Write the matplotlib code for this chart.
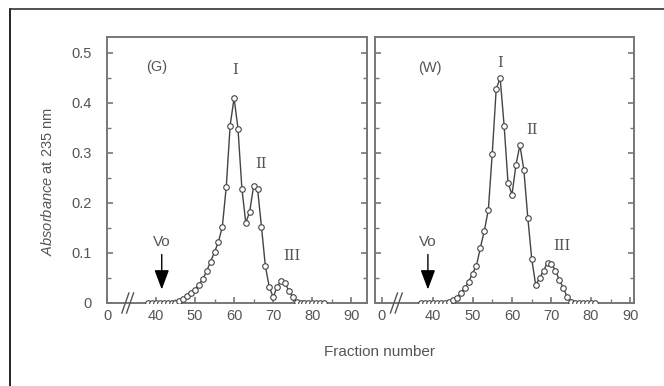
import numpy as np
import matplotlib
matplotlib.use("Agg")
import matplotlib.pyplot as plt
from matplotlib.lines import Line2D
from matplotlib.ticker import MultipleLocator, FixedLocator

# --- data (fraction number, absorbance at 235 nm) ---
g_frac = [38, 39, 40, 41, 42, 43, 44, 45, 46, 47, 48, 49, 50, 51, 52, 53, 54, 55,
          56, 57, 58, 59, 60, 61, 62, 63, 64, 65, 66, 67, 68, 69, 70, 71, 72, 73,
          74, 75, 76, 77, 78, 79, 80, 81, 82, 83]
g_abs = [0, 0, 0, 0, 0, 0, 0, 0, 0.004, 0.009, 0.015, 0.021, 0.027, 0.037, 0.048,
         0.064, 0.083, 0.102, 0.122, 0.153, 0.232, 0.355, 0.41, 0.349, 0.229,
         0.16, 0.183, 0.234, 0.229, 0.153, 0.074, 0.032, 0.012, 0.032, 0.045,
         0.04, 0.025, 0.012, 0.002, 0, 0, 0, 0, 0, 0, 0]

w_frac = [37, 38, 39, 40, 41, 42, 43, 44, 45, 46, 47, 48, 49, 50, 51, 52, 53, 54,
          55, 56, 57, 58, 59, 60, 61, 62, 63, 64, 65, 66, 67, 68, 69, 70, 71, 72,
          73, 74, 75, 76, 77, 78, 79, 80, 81]
w_abs = [0, 0, 0, 0, 0, 0, 0, 0.003, 0.006, 0.01, 0.02, 0.03, 0.042, 0.059, 0.075,
         0.111, 0.145, 0.186, 0.299, 0.428, 0.45, 0.355, 0.24, 0.217, 0.276, 0.316,
         0.266, 0.171, 0.088, 0.036, 0.05, 0.065, 0.081, 0.078, 0.065, 0.046, 0.03,
         0.012, 0.003, 0, 0, 0, 0, 0, 0]

x_ticks = [40, 50, 60, 70, 80, 90]
y_ticks = [0, 0.1, 0.2, 0.3, 0.4, 0.5]
y_ticklabels = ["0", "0.1", "0.2", "0.3", "0.4", "0.5"]

panels = [
    # name, x, y, xlim, zero-tick pos, Vo pos, break pos, peak labels, name pos
    ("(G)", g_frac, g_abs, (27.5, 94.0), 27.5, 41.5, 32.8,
     [("I", 60.2, 0.466), ("II", 67.0, 0.278), ("III", 74.7, 0.094)], (40.2, 0.472)),
    ("(W)", w_frac, w_abs, (25.3, 90.9), 27.0, 38.7, 30.7,
     [("I", 56.9, 0.48), ("II", 65.0, 0.345), ("III", 72.6, 0.115)], (39.2, 0.47)),
]

TXT = "#555555"
SPINE = "#777777"

plt.rcParams["font.family"] = ["Liberation Sans", "DejaVu Sans"]
plt.rcParams["mathtext.fontset"] = "custom"
plt.rcParams["mathtext.rm"] = "Liberation Sans"
plt.rcParams["mathtext.it"] = "Liberation Sans:italic"
fig = plt.figure(figsize=(6.64, 3.86), dpi=100)
rects = [[107 / 664, 1 - 303 / 386, 260 / 664, 266 / 386],
         [375 / 664, 1 - 303 / 386, 259 / 664, 266 / 386]]

for i, (rect, (name, xs, ys, xlim, zpos, vo_x, brk_x, peaks, name_xy)) in \
        enumerate(zip(rects, panels)):
    ax = fig.add_axes(rect)
    ax.plot(xs, ys, "-o", color="#444444", lw=1.0, ms=4, mfc="white",
            mec="#444444", mew=0.8, zorder=3)
    ax.set_xlim(*xlim)
    ax.set_ylim(0, 0.532)
    ax.xaxis.set_major_locator(FixedLocator([zpos] + x_ticks))
    ax.set_xticklabels(["0"] + [str(t) for t in x_ticks])
    ax.xaxis.set_minor_locator(FixedLocator([45, 55, 65, 75, 85]))
    ax.yaxis.set_major_locator(FixedLocator(y_ticks))
    ax.yaxis.set_minor_locator(MultipleLocator(0.05))
    if i == 0:
        ax.set_yticklabels(y_ticklabels)
    else:
        ax.set_yticklabels([])
    ax.tick_params(which="both", direction="in", right=True, top=False,
                   colors=SPINE, labelcolor=TXT, labelsize=10.5)
    ax.tick_params(axis="y", pad=11)
    ax.tick_params(axis="x", pad=4)
    ax.tick_params(which="major", length=4, width=1.2)
    ax.tick_params(which="minor", length=3, width=1.0)
    for s in ax.spines.values():
        s.set_color(SPINE)
        s.set_linewidth(1.4)

    # axis break mark
    for dx in (-0.6, 0.6):
        ax.plot([brk_x + dx - 0.9, brk_x + dx + 0.9], [-0.02, 0.02],
                color="#555555", lw=1.0, clip_on=False, zorder=4)

    # void volume arrow
    ax.annotate("", xy=(vo_x, 0.027), xytext=(vo_x, 0.097),
                arrowprops=dict(arrowstyle="-|>,head_length=1.2,head_width=0.45",
                                color="black", lw=1.0, shrinkA=0, shrinkB=0))
    ax.text(vo_x, 0.123, "Vo", ha="center", va="center", fontsize=11, color=TXT)

    ax.text(name_xy[0], name_xy[1], name, ha="center", va="center",
            fontsize=10.5, color=TXT)
    for lab, px, py in peaks:
        ax.text(px, py, lab, ha="center", va="center", fontsize=10.5,
                color=TXT, family="serif")

fig.text(47 / 664, 1 - 182 / 386, "$\\it{Absorbance}$ at 235 nm", rotation=90,
         ha="center", va="center", fontsize=10.5, color=TXT)
fig.text(380 / 664, 1 - 352 / 386, "Fraction number", ha="center", va="center",
         fontsize=11, color=TXT)

# figure frame (left and top edges)
fig.add_artist(Line2D([9.5 / 664, 9.5 / 664], [0, 1 - 9 / 386],
                      transform=fig.transFigure, color="black", lw=1.2))
fig.add_artist(Line2D([9.5 / 664, 1], [1 - 9 / 386, 1 - 9 / 386],
                      transform=fig.transFigure, color="#333333", lw=1.2))

fig.savefig("out.png", dpi=100)
